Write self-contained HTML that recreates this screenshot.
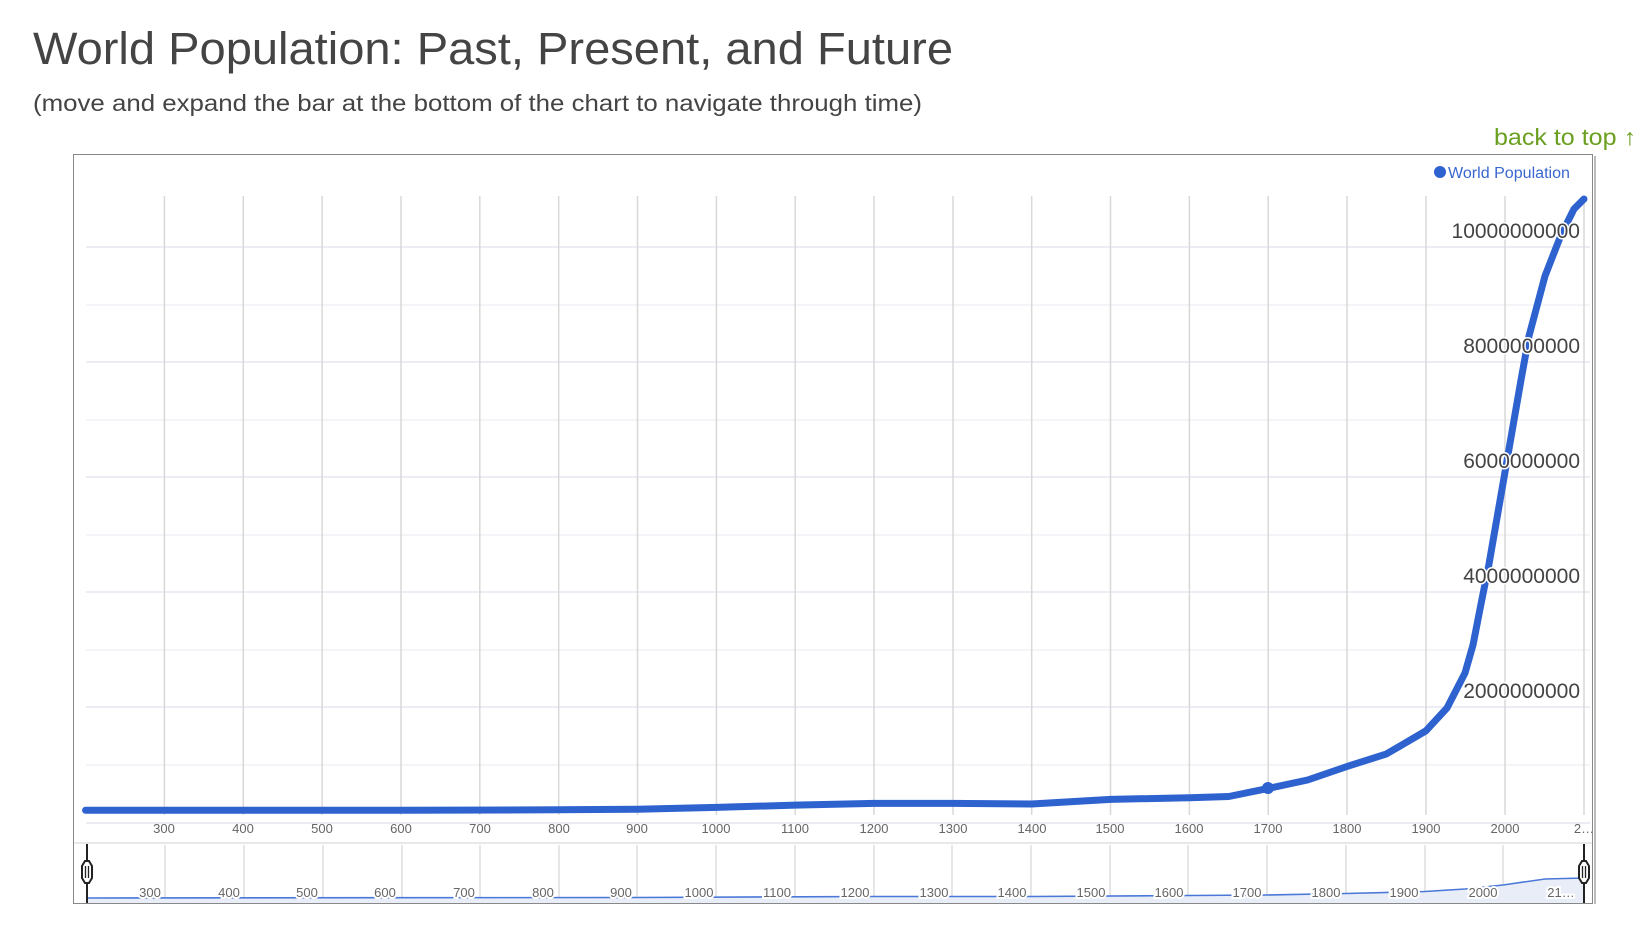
<!DOCTYPE html>
<html><head><meta charset="utf-8"><style>
body{margin:0;background:#fff;width:1642px;height:940px;overflow:hidden;font-family:"Liberation Sans",sans-serif}
</style></head><body>
<svg width="1642" height="940" xmlns="http://www.w3.org/2000/svg" font-family="Liberation Sans, sans-serif">
<text x="33" y="64" font-size="45" fill="#444" textLength="920" lengthAdjust="spacingAndGlyphs">World Population: Past, Present, and Future</text>
<text x="33" y="111" font-size="23" fill="#444" textLength="889" lengthAdjust="spacingAndGlyphs">(move and expand the bar at the bottom of the chart to navigate through time)</text>
<text x="1494" y="145" font-size="23" fill="#6a9f1f" textLength="142" lengthAdjust="spacingAndGlyphs">back to top ↑</text>
<rect x="73.5" y="154.5" width="1519" height="749" fill="#fff" stroke="#888" stroke-width="1"/>
<line x1="1595" y1="156" x2="1595" y2="904" stroke="#bbb" stroke-width="2"/>
<g stroke="#f0f0f7" stroke-width="1.5">
<line x1="86" x2="1590" y1="305" y2="305"/><line x1="86" x2="1590" y1="420" y2="420"/><line x1="86" x2="1590" y1="535" y2="535"/><line x1="86" x2="1590" y1="650" y2="650"/><line x1="86" x2="1590" y1="765" y2="765"/>
</g>
<g stroke="#e6e6f0" stroke-width="1.5">
<line x1="86" x2="1590" y1="247" y2="247"/><line x1="86" x2="1590" y1="362" y2="362"/><line x1="86" x2="1590" y1="477" y2="477"/><line x1="86" x2="1590" y1="592" y2="592"/><line x1="86" x2="1590" y1="707" y2="707"/><line x1="86" x2="1590" y1="823" y2="823"/>
</g>
<line x1="74" x2="1592" y1="843" y2="843" stroke="#e8e8e8" stroke-width="2"/>
<g stroke="#d8d8d8" stroke-width="1.5">
<line x1="164.4" x2="164.4" y1="196" y2="815"/><line x1="243.3" x2="243.3" y1="196" y2="815"/><line x1="322.1" x2="322.1" y1="196" y2="815"/><line x1="401" x2="401" y1="196" y2="815"/><line x1="479.8" x2="479.8" y1="196" y2="815"/><line x1="558.7" x2="558.7" y1="196" y2="815"/><line x1="637.5" x2="637.5" y1="196" y2="815"/><line x1="716.4" x2="716.4" y1="196" y2="815"/><line x1="795.2" x2="795.2" y1="196" y2="815"/><line x1="874" x2="874" y1="196" y2="815"/><line x1="953" x2="953" y1="196" y2="815"/><line x1="1031.7" x2="1031.7" y1="196" y2="815"/><line x1="1110.5" x2="1110.5" y1="196" y2="815"/><line x1="1189.4" x2="1189.4" y1="196" y2="815"/><line x1="1268.2" x2="1268.2" y1="196" y2="815"/><line x1="1347" x2="1347" y1="196" y2="815"/><line x1="1426" x2="1426" y1="196" y2="815"/><line x1="1505" x2="1505" y1="196" y2="815"/><line x1="1584" x2="1584" y1="196" y2="815"/>
</g>
<g font-size="13" fill="#666" text-anchor="middle">
<text x="164" y="833">300</text><text x="243" y="833">400</text><text x="322" y="833">500</text><text x="401" y="833">600</text><text x="480" y="833">700</text><text x="559" y="833">800</text><text x="637" y="833">900</text><text x="716" y="833">1000</text><text x="795" y="833">1100</text><text x="874" y="833">1200</text><text x="953" y="833">1300</text><text x="1032" y="833">1400</text><text x="1110" y="833">1500</text><text x="1189" y="833">1600</text><text x="1268" y="833">1700</text><text x="1347" y="833">1800</text><text x="1426" y="833">1900</text><text x="1505" y="833">2000</text><text x="1584" y="833">2…</text>
</g>
<g stroke="#ddd" stroke-width="1.5">
<line x1="165" x2="165" y1="845" y2="903"/><line x1="244" x2="244" y1="845" y2="903"/><line x1="323" x2="323" y1="845" y2="903"/><line x1="402" x2="402" y1="845" y2="903"/><line x1="480" x2="480" y1="845" y2="903"/><line x1="559" x2="559" y1="845" y2="903"/><line x1="637" x2="637" y1="845" y2="903"/><line x1="716" x2="716" y1="845" y2="903"/><line x1="795" x2="795" y1="845" y2="903"/><line x1="874" x2="874" y1="845" y2="903"/><line x1="952" x2="952" y1="845" y2="903"/><line x1="1031" x2="1031" y1="845" y2="903"/><line x1="1110" x2="1110" y1="845" y2="903"/><line x1="1188" x2="1188" y1="845" y2="903"/><line x1="1267" x2="1267" y1="845" y2="903"/><line x1="1346" x2="1346" y1="845" y2="903"/><line x1="1425" x2="1425" y1="845" y2="903"/><line x1="1503" x2="1503" y1="845" y2="903"/>
</g>
<path d="M87,898 L637,897.5 L874,896.5 L1031,896.5 L1188,895.5 L1267,895 L1346,893.5 L1425,891.5 L1465,889 L1503,885 L1545,879 L1584,878 L1584,903 L87,903Z" fill="#e8edf8"/>
<path d="M87,898 L637,897.5 L874,896.5 L1031,896.5 L1188,895.5 L1267,895 L1346,893.5 L1425,891.5 L1465,889 L1503,885 L1545,879 L1584,878" fill="none" stroke="#4a78d8" stroke-width="1.6"/>
<g font-size="13" fill="#666" text-anchor="middle" stroke="#fff" stroke-width="4" paint-order="stroke">
<text x="150" y="897">300</text><text x="229" y="897">400</text><text x="307" y="897">500</text><text x="385" y="897">600</text><text x="464" y="897">700</text><text x="543" y="897">800</text><text x="621" y="897">900</text><text x="699" y="897">1000</text><text x="777" y="897">1100</text><text x="855" y="897">1200</text><text x="934" y="897">1300</text><text x="1012" y="897">1400</text><text x="1091" y="897">1500</text><text x="1169" y="897">1600</text><text x="1247" y="897">1700</text><text x="1326" y="897">1800</text><text x="1404" y="897">1900</text><text x="1483" y="897">2000</text><text x="1561" y="897">21…</text>
</g>
<g stroke="#222" stroke-width="2" fill="#fff">
<line x1="87" x2="87" y1="844" y2="903"/><line x1="1584" x2="1584" y1="844" y2="903"/>
<path d="M82,866 L85,861 L89,861 L92,866 L92,878 L89,883 L85,883 L82,878Z"/>
<path d="M1579,866 L1582,861 L1586,861 L1589,866 L1589,878 L1586,883 L1582,883 L1579,878Z"/>
<line x1="85.5" x2="85.5" y1="866" y2="878" stroke-width="1.3"/><line x1="88.5" x2="88.5" y1="866" y2="878" stroke-width="1.3"/>
<line x1="1582.5" x2="1582.5" y1="866" y2="878" stroke-width="1.3"/><line x1="1585.5" x2="1585.5" y1="866" y2="878" stroke-width="1.3"/>
</g>
<path d="M85.5,810.3 L401,810.3 L558.7,809.8 L637.5,809.2 L716.4,807.4 L795.2,805.1 L874,803.4 L953,803.4 L1031.7,804 L1110.5,799.4 L1189.4,797.7 L1228.8,796.5 L1268.2,788.4 L1307.6,780 L1347,766.5 L1386.5,753.9 L1426,730.8 L1447,708 L1465,673 L1473,645 L1481,604 L1489,564 L1497,518 L1505,472 L1513,426 L1521,380 L1529,336 L1545,276 L1561,235 L1574,209 L1584,199" fill="none" stroke="#2e62cf" stroke-width="7" stroke-linejoin="round" stroke-linecap="round"/>
<circle cx="1268" cy="788" r="6" fill="#2e62cf"/>
<g font-size="21" fill="#444" text-anchor="end" stroke="#fff" stroke-width="3" paint-order="stroke">
<text x="1580" y="238">10000000000</text><text x="1580" y="353">8000000000</text><text x="1580" y="468">6000000000</text><text x="1580" y="583">4000000000</text><text x="1580" y="698">2000000000</text>
</g>
<circle cx="1440" cy="172" r="6" fill="#2e62cf"/>
<text x="1448" y="178" font-size="15.5" fill="#3a67d0" textLength="122" lengthAdjust="spacingAndGlyphs">World Population</text>
</svg>
</body></html>
